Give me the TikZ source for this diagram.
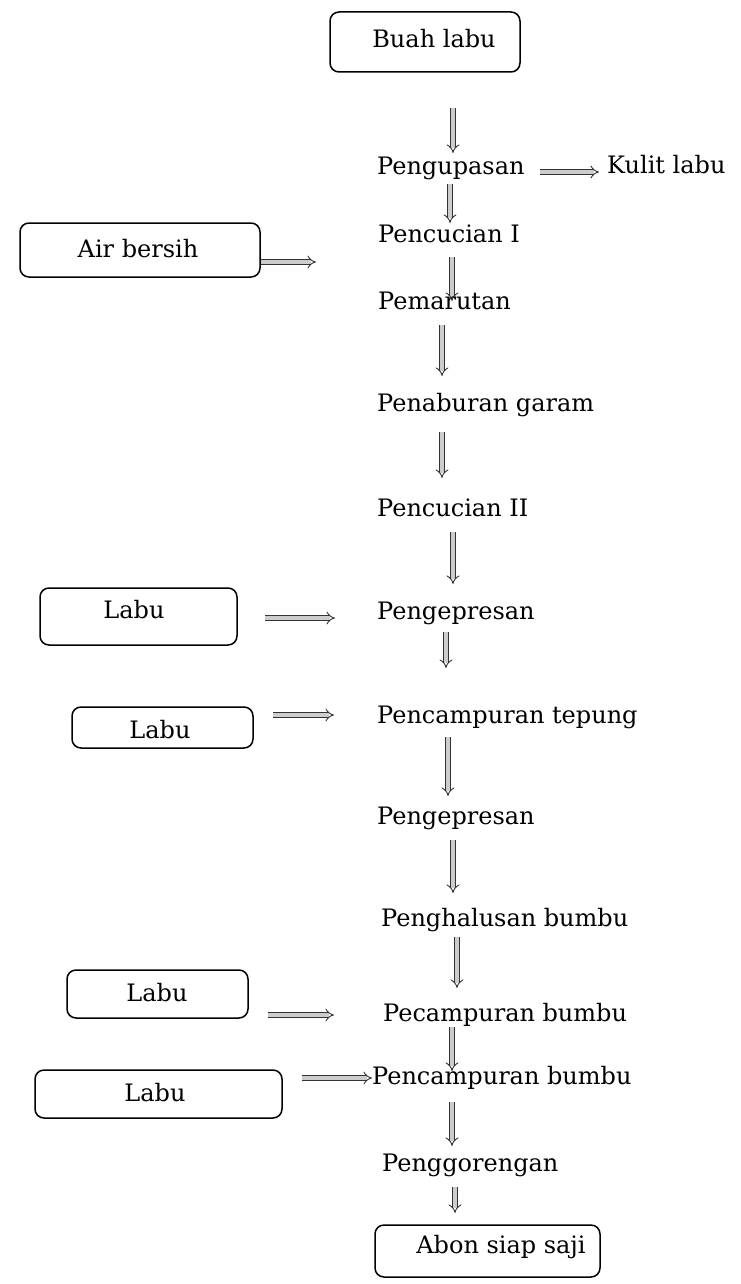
\documentclass[tikz,border=0pt]{standalone}
\usepackage{fontspec}
\setmainfont{DejaVu Serif}
\usetikzlibrary{arrows.meta}
\begin{document}
\begin{tikzpicture}[x=1pt,y=-1pt,
  txt/.style={font=\fontsize{24}{28}\selectfont, inner sep=0pt, anchor=west, text height=17pt, text depth=5pt},
  ctxt/.style={font=\fontsize{24}{28}\selectfont, inner sep=0pt, text height=17pt, text depth=5pt},
  box/.style={draw, line width=1.5pt, rounded corners=9pt},
  arr/.style={draw=black!80, line width=0.9pt, double=black!20, double distance=3.6pt, -{Implies[scale=1.8]}}]
\useasboundingbox (0,0) rectangle (740,1284);

% boxes
\node[box, minimum width=190pt, minimum height=60pt] (buah) at (425,42) {};
\node[ctxt] (buaht) at (434,42) {Buah labu};
\node[box, minimum width=240pt, minimum height=54pt] (air) at (140,250) {};
\node[ctxt] (airt) at (138,251) {Air bersih};
\node[box, minimum width=197pt, minimum height=57pt] (lb1) at (138.5,616.5) {};
\node[ctxt] (lb1t) at (134,612) {Labu};
\node[box, minimum width=181pt, minimum height=41pt] (lb2) at (162.5,727.5) {};
\node[ctxt] (lb2t) at (160,732) {Labu};
\node[box, minimum width=181pt, minimum height=48pt] (lb3) at (157.5,994) {};
\node[ctxt] (lb3t) at (157,995) {Labu};
\node[box, minimum width=247pt, minimum height=48pt] (lb4) at (158.5,1094) {};
\node[ctxt] (lb4t) at (155,1095) {Labu};
\node[box, minimum width=225pt, minimum height=52pt] (abon) at (487.5,1251) {};
\node[ctxt] (abont) at (501,1247) {Abon siap saji};

% process steps
\node[txt] (s1) at (377,169) {Pengupasan};
\node[txt] (kulit) at (607,168) {Kulit labu};
\node[txt] (s2) at (378,236) {Pencucian I};
\node[txt] (s3) at (378,303) {Pemarutan};
\node[txt] (s4) at (377,405) {Penaburan garam};
\node[txt] (s5) at (377,510) {Pencucian II};
\node[txt] (s6) at (377,613) {Pengepresan};
\node[txt] (s7) at (377,717) {Pencampuran tepung};
\node[txt] (s8) at (377,818) {Pengepresan};
\node[txt] (s9) at (381,920) {Penghalusan bumbu};
\node[txt] (s10) at (383,1015) {Pecampuran bumbu};
\node[txt] (s11) at (372,1078) {Pencampuran bumbu};
\node[txt] (s12) at (382,1165) {Penggorengan};

% arrow end points
\coordinate (v1a) at (453,108);  \coordinate (v1b) at (453,153);
\coordinate (v2a) at (450,184);  \coordinate (v2b) at (450,223);
\coordinate (v3a) at (452,257);  \coordinate (v3b) at (452,301);
\coordinate (v4a) at (442,325);  \coordinate (v4b) at (442,376);
\coordinate (v5a) at (442,432);  \coordinate (v5b) at (442,478);
\coordinate (v6a) at (453,532);  \coordinate (v6b) at (453,584);
\coordinate (v7a) at (446,632);  \coordinate (v7b) at (446,668);
\coordinate (v8a) at (448,737);  \coordinate (v8b) at (448,796);
\coordinate (v9a) at (453,840);  \coordinate (v9b) at (453,893);
\coordinate (v10a) at (457,937); \coordinate (v10b) at (457,988);
\coordinate (v11a) at (452,1027); \coordinate (v11b) at (452,1071);
\coordinate (v12a) at (452,1102); \coordinate (v12b) at (452,1146);
\coordinate (v13a) at (455,1187); \coordinate (v13b) at (455,1213);

\draw[arr] (v1a) -- (v1b);
\draw[arr] (v2a) -- (v2b);
\draw[arr] (v3a) -- (v3b);
\draw[arr] (v4a) -- (v4b);
\draw[arr] (v5a) -- (v5b);
\draw[arr] (v6a) -- (v6b);
\draw[arr] (v7a) -- (v7b);
\draw[arr] (v8a) -- (v8b);
\draw[arr] (v9a) -- (v9b);
\draw[arr] (v10a) -- (v10b);
\draw[arr] (v11a) -- (v11b);
\draw[arr] (v12a) -- (v12b);
\draw[arr] (v13a) -- (v13b);

% horizontal arrows
\coordinate (h0a) at (540,172); \coordinate (h0b) at (599,172);
\draw[arr] (h0a) -- (h0b);
\coordinate (h1b) at (316,262);
\draw[arr] (air.east |- h1b) -- (h1b);
\coordinate (h2a) at (265,618); \coordinate (h2b) at (335,618);
\draw[arr] (h2a) -- (h2b);
\coordinate (h3a) at (273,715); \coordinate (h3b) at (334,715);
\draw[arr] (h3a) -- (h3b);
\coordinate (h4a) at (268,1015); \coordinate (h4b) at (334,1015);
\draw[arr] (h4a) -- (h4b);
\coordinate (h5a) at (302,1078);
\draw[arr] (h5a) -- (s11.west |- h5a);
\end{tikzpicture}
\end{document}
